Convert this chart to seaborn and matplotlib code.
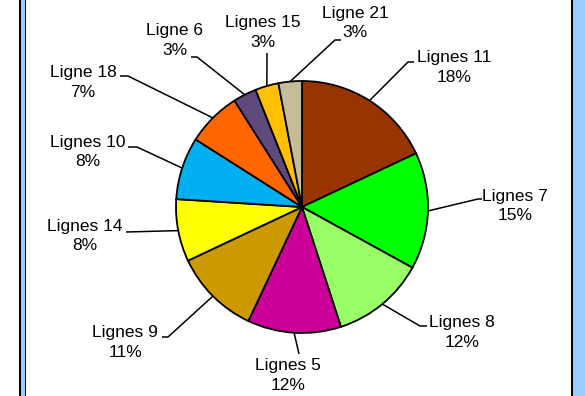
import matplotlib
matplotlib.use("Agg")
import matplotlib.pyplot as plt
import matplotlib.patches as mpatches
import numpy as np
import seaborn as sns

# Share of each line (percent), clockwise from 12 o'clock
lines = ["Lignes 11", "Lignes 7", "Lignes 8", "Lignes 5", "Lignes 9", "Lignes 14",
         "Lignes 10", "Ligne 18", "Ligne 6", "Lignes 15", "Ligne 21"]
shares = [18, 15, 12, 12, 11, 8, 8, 7, 3, 3, 3]
slice_colors = ["#993300", "#00FF00", "#99FF66", "#CC0099", "#CC9900", "#FFFF00",
                "#00B0F0", "#FF6600", "#604A7B", "#FFC000", "#C4BD97"]

W, H = 585, 396

sns.set_theme(style="white")
plt.rcParams["font.family"] = ["Liberation Sans", "DejaVu Sans"]

fig = plt.figure(figsize=(W / 100, H / 100), dpi=100)
fig.patch.set_facecolor("white")
ax = fig.add_axes([0, 0, 1, 1])

palette = sns.color_palette(slice_colors)
cx, cy, r = 302, H - 207, 126
wedges, _ = ax.pie(shares, colors=palette, startangle=90, counterclock=False,
                   center=(cx, cy), radius=r,
                   wedgeprops=dict(edgecolor="black", linewidth=1.3))
ax.set_xlim(0, W)
ax.set_ylim(0, H)
ax.set_aspect("equal")
ax.axis("off")

# Label block centres and leader-line elbows, in pixels from the top-left
label_pos = [(454, 67.5), (515, 206), (462, 332.5), (288, 375.5), (125, 342.5),
             (85, 236), (88, 152), (83, 82.5), (175, 40.5), (263, 32.5), (355, 23)]
leader_pts = [
    [(408, 62), (414, 62)],
    [(478, 199), (482, 199)],
    [(420, 326), (427, 326)],
    [(299, 354)],
    [(168, 337), (162, 337)],
    [(126, 232)],
    [(137, 147), (128, 147)],
    [(128, 76), (120, 76)],
    [(197, 57), (191, 57)],
    [(267, 53)],
    [(335, 40), (341, 40)],
]

for w, name, pct, (tx, ty), pts in zip(wedges, lines, shares, label_pos, leader_pts):
    mid = np.deg2rad((w.theta1 + w.theta2) / 2)
    ax_, ay_ = cx + r * np.cos(mid), cy + r * np.sin(mid)
    xs = [ax_] + [p[0] for p in pts]
    ys = [ay_] + [H - p[1] for p in pts]
    ax.plot(xs, ys, color="black", lw=1.1, solid_capstyle="butt", zorder=1)
    ax.text(tx, H - ty, f"{name}\n{pct}%", ha="center", va="center",
            fontsize=12.5, color="black", linespacing=1.4)

# Side frame: black rules with a light-blue band
def band(x0, x1, color):
    fig.patches.append(mpatches.Rectangle((x0 / W, 0), (x1 - x0) / W, 1,
                                          transform=fig.transFigure,
                                          facecolor=color, edgecolor="none",
                                          zorder=5))

band(19, 20.5, "black")
band(20.5, 25, "#99CCFF")
band(25, 26.3, "black")
band(570.7, 573, "black")
band(573, 585, "#99CCFF")

fig.savefig("out.png", dpi=100, facecolor="white")
